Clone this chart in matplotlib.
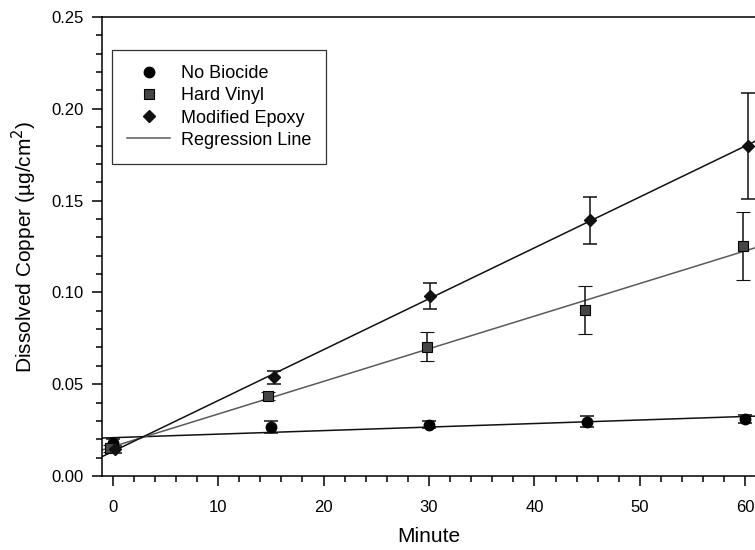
import numpy as np
import matplotlib
matplotlib.use("Agg")
import matplotlib.pyplot as plt
from matplotlib.ticker import MultipleLocator, FormatStrFormatter

plt.rcParams['font.family'] = ['Liberation Sans', 'DejaVu Sans']

# sampling times (minutes), slight offsets as drawn in the original
minutes = [0, 15, 30, 45, 60]
x_biocide = [0, 15, 30, 45, 60]
x_vinyl = [-0.2, 14.7, 29.8, 44.8, 59.8]
x_epoxy = [0.2, 15.3, 30.1, 45.25, 60.2]

# dissolved copper (ug/cm2) and standard deviations
cu_biocide = [0.018, 0.0267, 0.028, 0.0296, 0.031]
sd_biocide = [0.002, 0.003, 0.002, 0.003, 0.002]
cu_vinyl = [0.015, 0.0437, 0.0704, 0.0904, 0.1251]
sd_vinyl = [0.002, 0.0023, 0.008, 0.013, 0.0186]
cu_epoxy = [0.0145, 0.0538, 0.0982, 0.1394, 0.1797]
sd_epoxy = [0.002, 0.0035, 0.007, 0.0128, 0.029]

fig = plt.figure(figsize=(7.55, 5.5), dpi=100)
ax = fig.add_axes([0.1351, 0.1345, 0.8662, 0.8346])

xmin, xmax = -1, 61
xline = np.array([xmin, xmax])

# regression lines
for xs, ys, col in [(x_biocide, cu_biocide, '#111111'),
                    (x_vinyl, cu_vinyl, '#5a5a5a'),
                    (x_epoxy, cu_epoxy, '#111111')]:
    m, b = np.polyfit(xs, ys, 1)
    ax.plot(xline, m * xline + b, color=col, lw=1.1, zorder=2)

# data points with error bars
ax.errorbar(x_biocide, cu_biocide, yerr=sd_biocide, fmt='o', ms=7.5,
            color='black', mfc='black', mec='black', ecolor='#111111',
            elinewidth=1.1, capsize=5, capthick=1.1, zorder=3)
ax.errorbar(x_vinyl, cu_vinyl, yerr=sd_vinyl, fmt='s', ms=6.5,
            mfc='#454545', mec='black', mew=0.8, ecolor='#111111',
            elinewidth=1.1, capsize=5, capthick=1.1, zorder=3)
ax.errorbar(x_epoxy, cu_epoxy, yerr=sd_epoxy, fmt='D', ms=6.5,
            mfc='#111111', mec='#111111', ecolor='#111111',
            elinewidth=1.1, capsize=5, capthick=1.1, zorder=3)

# legend handles
h1, = ax.plot([], [], 'o', ms=7.5, color='black')
h2, = ax.plot([], [], 's', ms=6.5, mfc='#454545', mec='black', mew=0.8)
h3, = ax.plot([], [], 'D', ms=6.5, color='#111111')
h4, = ax.plot([], [], '-', color='#5a5a5a', lw=1.1)
leg = ax.legend([h1, h2, h3, h4],
                ['No Biocide', 'Hard Vinyl', 'Modified Epoxy', 'Regression Line'],
                loc='upper left', bbox_to_anchor=(0.0153, 0.928),
                borderaxespad=0, fancybox=False, framealpha=1,
                edgecolor='#333333', fontsize=13, handlelength=2.35,
                handletextpad=0.6, labelspacing=0.28, borderpad=0.85)
leg.get_frame().set_linewidth(0.9)

ax.set_xlim(xmin, xmax)
ax.set_ylim(0, 0.25)
ax.xaxis.set_major_locator(MultipleLocator(10))
ax.xaxis.set_minor_locator(MultipleLocator(2))
ax.yaxis.set_major_locator(MultipleLocator(0.05))
ax.yaxis.set_minor_locator(MultipleLocator(0.01))
ax.yaxis.set_major_formatter(FormatStrFormatter('%.2f'))

ax.tick_params(which='both', direction='out', top=False, right=False,
               labelsize=12, width=1.1)
ax.tick_params(axis='x', which='major', length=7, pad=10)
ax.tick_params(axis='y', which='major', length=7, pad=6)
ax.tick_params(which='minor', length=4)
for s in ax.spines.values():
    s.set_linewidth(1.1)

ax.set_xlabel('Minute', fontsize=15, labelpad=9)
ax.set_ylabel('Dissolved Copper (\u00b5g/cm$^2$)', fontsize=15, labelpad=9)

fig.savefig('out.png', dpi=100)
